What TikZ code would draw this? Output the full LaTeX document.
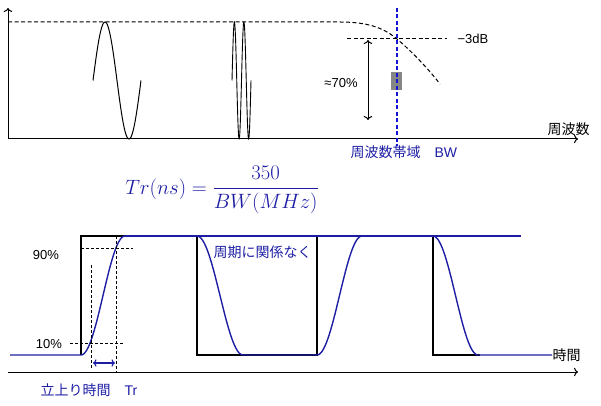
\documentclass[tikz,border=0pt]{standalone}
\usepackage{amsmath}
\usepackage{fontspec}
\setmainfont{Liberation Sans}
\newfontfamily\jp{Noto Sans CJK JP}
\usetikzlibrary{arrows.meta}
\definecolor{sigblue}{RGB}{30,30,165}
\definecolor{bwblue}{RGB}{20,20,215}

\begin{document}
\begin{tikzpicture}[x=1pt,y=-1pt,line width=1pt,
  sig/.style={sigblue,line width=1.4pt},
  ideal/.style={black,line width=1.1pt},
  guide/.style={dash pattern=on 3pt off 2pt,line width=0.7pt},
  resp/.style={dash pattern=on 4pt off 2.5pt,line width=1pt},
  lbl/.style={font=\fontsize{13}{15}\selectfont,inner sep=0pt},
  jlbl/.style={font=\jp\fontsize{14}{16}\selectfont,inner sep=0pt}]
\useasboundingbox (0,0) rectangle (601,406);

% frequency axes
\coordinate (o1) at (8,139);
\coordinate (ytop) at (8,8);
\coordinate (fend) at (578,139);
\draw[-{To[length=4pt]}] (o1) -- (ytop);
\draw[-{To[length=4pt]}] (o1) -- (fend);
\node[jlbl,anchor=south east] (flab) at (590,136) {周波数};

% slow and fast sine
\draw plot[domain=93:141,samples=60] (\x,{80.5-58.5*sin((\x-93)*7.5)});
\draw[line width=0.9pt] plot[domain=232:251,samples=160] (\x,{80.5-58.5*sin((\x-232)*37.9)});

% response curve
\draw[resp] (8,22) -- (340,22) .. controls (372,22) and (386,30) .. (397,39)
  .. controls (410,50) and (426,66) .. (440,84);
\draw[resp] (347,39) -- (447,39);
\node[lbl,anchor=west] (db) at (457,39) {−3dB};

\fill[gray!95] (391,72) rectangle (402,90);
\coordinate (a1) at (368,40);
\coordinate (a2) at (368,120);
\draw[{To[length=4pt]}-{To[length=4pt]}] (a1) -- (a2);
\node[lbl] (pc70) at (341,83) {≈70\%};

\draw[bwblue,dash pattern=on 4pt off 2.5pt,line width=1.1pt] (397,8) -- (397,146);
\node[jlbl,sigblue,anchor=west] (bw) at (350,152) {周波数帯域\hspace{1em}{\rmfamily BW}};

% formula
\node[sigblue,font=\fontsize{21}{24}\selectfont] (eq) at (222,190) {$Tr(ns)=\dfrac{350}{BW(MHz)}$};

% time axis
\coordinate (o2) at (8,372);
\coordinate (tend) at (578,372);
\draw[-{To[length=4pt]}] (o2) -- (tend);
\node[jlbl,anchor=west] (tlab) at (552,355) {時間};

% ideal pulse
\draw[ideal] (81,355) -- (81,236) -- (197,236) -- (197,355) -- (317,355)
  -- (317,236) -- (433,236) -- (433,355) -- (480,355);

% real pulse
\draw[sig] (10,355) -- (81,355)
  -- plot[domain=0:1,samples=40] ({81+44*\x},{355-59.5*(1-cos(180*\x))})
  -- (197,236)
  -- plot[domain=0:1,samples=40] ({197+46*\x},{236+59.5*(1-cos(180*\x))})
  -- (317,355)
  -- plot[domain=0:1,samples=40] ({317+45*\x},{355-59.5*(1-cos(180*\x))})
  -- (433,236)
  -- plot[domain=0:1,samples=40] ({433+45*\x},{236+59.5*(1-cos(180*\x))})
  -- (tlab.west);
\draw[sig] (125,236) -- (521,236);
\node[jlbl,sigblue,anchor=west] (per) at (213,252) {周期に関係なく};

% 10-90 guides
\draw[guide] (70,343) -- (123,343);
\draw[guide] (81,248) -- (133,248);
\draw[guide] (91,265) -- (91,368);
\draw[guide] (116,236) -- (116,372);
\node[lbl] (p90) at (46,255) {90\%};
\node[lbl] (p10) at (49,344) {10\%};
\coordinate (r1) at (93,363);
\coordinate (r2) at (115,363);
\draw[sigblue,line width=1.2pt,{To[length=3.5pt]}-{To[length=3.5pt]}] (r1) -- (r2);
\node[jlbl,sigblue,anchor=west] (tr) at (40,390) {立上り時間\hspace{1em}{\rmfamily Tr}};

\end{tikzpicture}
\end{document}
